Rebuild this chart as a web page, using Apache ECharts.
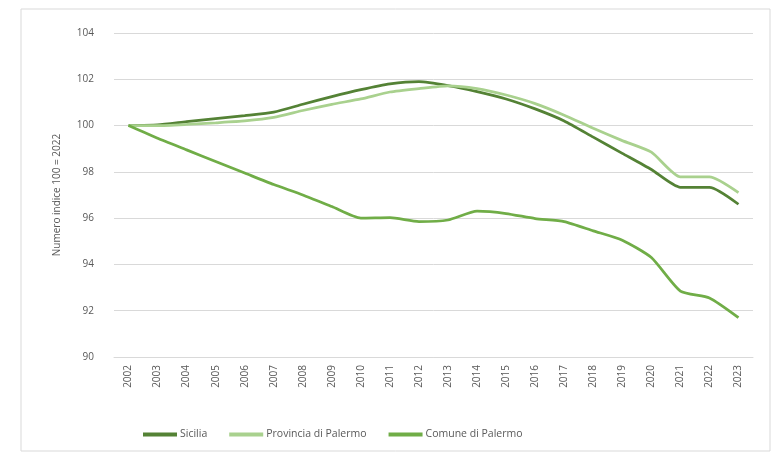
<!DOCTYPE html>
<html>
<head>
    <meta charset="UTF-8">
    <title>Numero indice</title>
    <script src="https://cdn.jsdelivr.net/npm/echarts@6/dist/echarts.min.js"></script>
    <style>
        body { margin: 0; background: #fff; }
        #chart { width: 773px; height: 454px; }
    </style>
</head>
<body>
    <div id="chart"></div>
    <script>
    const years = ['2002', '2003', '2004', '2005', '2006', '2007', '2008', '2009', '2010', '2011', '2012',
        '2013', '2014', '2015', '2016', '2017', '2018', '2019', '2020', '2021', '2022', '2023'];
    const sicilia = [100, 100.03, 100.17, 100.3, 100.43, 100.58, 100.92, 101.25, 101.55, 101.8, 101.9,
        101.73, 101.47, 101.15, 100.72, 100.2, 99.5, 98.8, 98.1, 97.33, 97.33, 96.6];
    const provincia = [100, 100.0, 100.05, 100.12, 100.2, 100.35, 100.65, 100.92, 101.15, 101.45, 101.6,
        101.72, 101.6, 101.32, 100.95, 100.45, 99.88, 99.35, 98.85, 97.78, 97.78, 97.1];
    const comune = [100, 99.45, 98.95, 98.45, 97.95, 97.45, 97.0, 96.5, 96.0, 96.02, 95.85,
        95.92, 96.3, 96.2, 95.98, 95.85, 95.45, 95.05, 94.3, 92.85, 92.55, 91.7];

    const chart = echarts.init(document.getElementById('chart'));
    const txt = '#595959';
    chart.setOption({
        backgroundColor: '#fff',
        animation: false,
        textStyle: { fontFamily: 'Open Sans' },
        graphic: [{
            type: 'rect',
            shape: { x: 21, y: 9, width: 749, height: 442 },
            style: { fill: 'none', stroke: '#d9d9d9', lineWidth: 1 }
        }],
        grid: { left: 114, right: 20, top: 33, bottom: 97 },
        legend: {
            top: 424,
            left: 138,
            itemWidth: 34,
            itemHeight: 4,
            itemGap: 22,
            icon: 'rect',
            textStyle: { color: txt, fontSize: 10.5, padding: [0, 0, 0, -2] },
            data: ['Sicilia', 'Provincia di Palermo', 'Comune di Palermo']
        },
        xAxis: {
            type: 'category',
            data: years,
            boundaryGap: true,
            axisLine: { lineStyle: { color: '#d9d9d9' } },
            axisTick: { show: false },
            axisLabel: { color: txt, fontSize: 10, rotate: 90, interval: 0, margin: 8 }
        },
        yAxis: {
            type: 'value',
            min: 90,
            max: 104,
            interval: 2,
            name: 'Numero indice 100 = 2022',
            nameLocation: 'middle',
            nameGap: 52,
            nameTextStyle: { color: txt, fontSize: 10 },
            axisLine: { show: false },
            axisTick: { show: false },
            axisLabel: { color: txt, fontSize: 10, margin: 20 },
            splitLine: { lineStyle: { color: '#d9d9d9' } }
        },
        series: [
            { name: 'Sicilia', type: 'line', data: sicilia, showSymbol: false, smooth: 0.2,
              lineStyle: { width: 2.75, color: '#548235' }, itemStyle: { color: '#548235' } },
            { name: 'Provincia di Palermo', type: 'line', data: provincia, showSymbol: false, smooth: 0.2,
              lineStyle: { width: 2.75, color: '#a9d18e' }, itemStyle: { color: '#a9d18e' } },
            { name: 'Comune di Palermo', type: 'line', data: comune, showSymbol: false, smooth: 0.2,
              lineStyle: { width: 2.75, color: '#70ad47' }, itemStyle: { color: '#70ad47' } }
        ]
    });
    </script>
</body>
</html>
